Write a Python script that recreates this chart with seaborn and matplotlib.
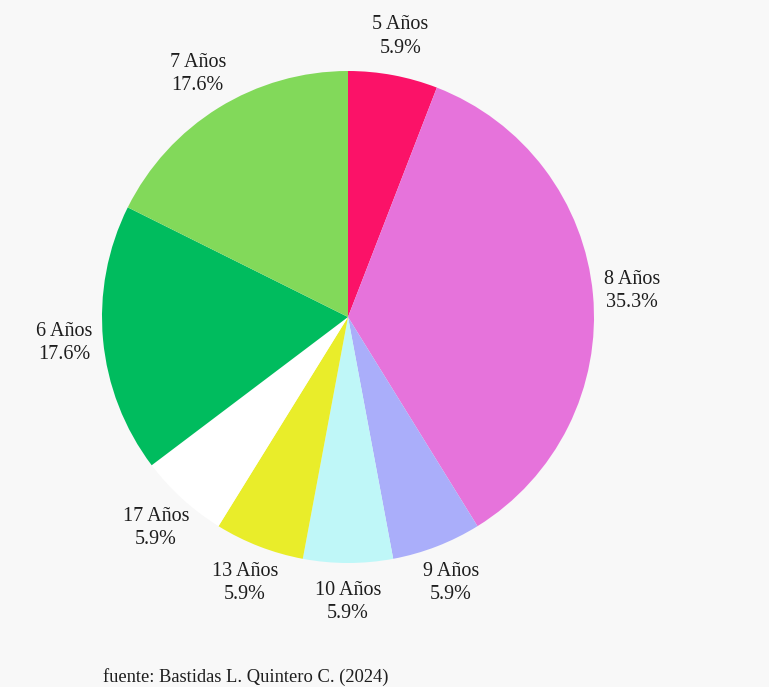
import matplotlib
matplotlib.use("Agg")
import matplotlib.pyplot as plt
import seaborn as sns

# Data
categories = ["5 Años", "8 Años", "9 Años", "10 Años", "13 Años", "17 Años", "6 Años", "7 Años"]
counts = [1, 6, 1, 1, 1, 1, 3, 3]
colors = ["#FB1268", "#E673DB", "#AAAEFA", "#BFF7F8", "#E9ED2A", "#FFFFFF", "#00BC5E", "#82D95A"]
source = "fuente: Bastidas L. Quintero C. (2024)"

sns.set_theme(style="white")
plt.rcParams["font.family"] = ["Liberation Serif", "DejaVu Serif"]

bg = "#F8F8F8"
W, H = 769, 687
fig = plt.figure(figsize=(W / 100, H / 100), dpi=100, facecolor=bg)

cx, cy, r = 348, 317, 246
ax = fig.add_axes([(cx - r) / W, (H - cy - r) / H, 2 * r / W, 2 * r / H])
ax.set_facecolor(bg)

palette = sns.color_palette(colors)
total = sum(counts)
labels = [f"{c}\n{v / total * 100:.1f}%" for c, v in zip(categories, counts)]

wedges, texts = ax.pie(counts, labels=labels, colors=palette, startangle=90,
                       counterclock=False, labeldistance=1.16,
                       wedgeprops=dict(linewidth=0),
                       textprops=dict(fontsize=14.5, color="#1e1e1e"))
for t in texts:
    t.set_horizontalalignment("center")
    t.set_verticalalignment("center")
    t.set_multialignment("center")
    t.set_linespacing(1.3)

ax.set_xlim(-1, 1)
ax.set_ylim(-1, 1)
ax.set_aspect("equal")
ax.axis("off")

fig.text(103 / W, 1 - 677 / H, source, fontsize=13.3, color="#1e1e1e",
         ha="left", va="center")

fig.savefig("out.png", dpi=100, facecolor=bg)
